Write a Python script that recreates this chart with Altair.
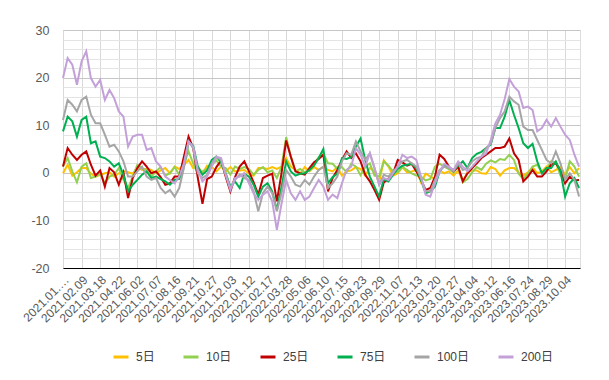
import altair as alt
import pandas as pd

# x-axis category labels (one every 25 trading days)
labels = ["2021.01.…", "2021.02.09", "2021.03.18", "2021.04.22", "2021.06.02", "2021.07.07",
          "2021.08.16", "2021.09.21", "2021.10.27", "2021.12.03", "2022.01.12", "2022.02.17",
          "2022.03.28", "2022.05.06", "2022.06.10", "2022.07.15", "2022.08.23", "2022.09.29",
          "2022.11.07", "2022.12.13", "2023.01.20", "2023.02.27", "2023.04.04", "2023.05.12",
          "2023.06.16", "2023.07.24", "2023.08.29", "2023.10.04"]

names = ["5日", "10日", "25日", "75日", "100日", "200日"]
colors = ["#FFC000", "#92D050", "#C00000", "#00B050", "#A5A5A5", "#C3A0D8"]

# sample positions, in units of label intervals (4 samples per interval)
pos = [i / 4 for i in range(112)]

s5 = [-0.1, 1.7, -0.6, 0.1, 1.0, 1.0, -0.2, -0.8, -0.4, -0.1, 0.1, -0.8, -0.1, 0.3, 0.1, -0.2, 1.2, 0.6, 0.9,
      0.6, -0.1, 0.5, 1.0, -0.1, 1.3, 0.8, 1.7, 2.7, 1.0, 1.3, -0.1, 1.5, 1.3, 0.3, 1.3, 0.3, 1.2, 0.3,
      0.5, 0.6, -0.2, -0.6, 1.0, 1.0, 0.8, 1.2, 0.8, 1.3, 3.1, 1.3, 0.6, -0.2, 1.2, 0.3, 1.2, 0.6, 1.3, 0.6,
      0.3, 1.2, -0.6, 0.3, 0.5, 1.2, 0.8, -0.6, 1.0, 0.3, -2.0, 2.6, 1.3, -0.6, -0.1, 1.2, 0.1, 0.3, 0.6,
      -2.0, -0.2, -0.8, -1.3, 0.5, -0.1, 0.3, -0.6, 0.5, -1.8, 0.1, 0.5, 0.5, -0.1, -0.2, 1.2, 0.8, -0.6, 0.5, 1.0,
      1.0, 0.1, -0.6, 0.1, 1.2, -0.1, 0.3, 1.3, 0.1, 0.6, 1.3, -0.4, 1.2, -0.1, 1.0]

s10 = [1.3, 3.1, 0.3, -2.0, 1.3, 2.0, -1.1, -0.8, -0.2, -2.2, -0.8, -0.4, 1.0, -1.5, -3.2, -0.8, 1.7, 1.0, 0.5,
       -0.8, 0.3, 1.2, -0.6, -0.1, 1.2, -0.4, 1.9, 4.5, 2.0, -0.2, 0.3, 0.8, 1.7, 2.6, 1.3, 1.0, -0.4, 1.3,
       0.8, 1.2, 0.8, -0.4, 0.6, 1.2, 0.1, 0.5, -1.1, 1.3, 7.5, 3.4, 0.3, 0.8, 0.1, 0.5, 1.9, 3.3, 4.0, 2.0,
       1.9, 0.8, 1.2, 0.1, 1.9, 1.3, -0.5, 1.3, 2.0, -0.6, -0.8, 2.4, 1.5, 0.3, 0.1, 1.2, 0.6, -0.1, -0.6,
       -0.8, -1.6, -1.3, 1.3, 1.9, 1.3, 0.8, 0.1, 1.3, -2.0, -1.3, 0.1, 1.2, 0.6, 1.9, 2.6, 2.2, 2.9, 2.7, 3.8,
       2.7, -0.2, -1.3, -0.2, 1.3, 1.7, 0.1, 0.8, 2.4, 2.2, -0.6, -1.1, 2.4, 1.3, -0.8]

s25 = [1.3, 5.2, 3.8, 2.7, 3.8, 4.5, 1.7, -0.6, 0.5, -2.9, 1.0, 0.1, -2.5, 0.1, -5.3, -1.1, 1.0, 2.4, 1.3,
       -0.1, 0.3, -0.9, -2.5, -2.2, -0.8, -0.8, 3.4, 7.6, 5.2, -1.1, -6.5, -1.3, -0.8, 1.2, 2.6, -0.8, -3.9, -0.9,
       1.3, 2.4, 0.3, -2.0, -4.6, -1.1, -0.6, -0.2, -6.0, -0.1, 6.8, 3.4, 0.3, -0.1, -0.4, 1.0, 2.2, 2.9, 3.8, -3.9,
       -1.1, 0.6, 2.7, 4.5, 3.1, 4.1, 2.4, -0.4, -1.8, -3.6, -5.7, -2.0, -1.3, -0.1, 2.7, 2.2, 1.5, 1.9, 0.3,
       -1.5, -3.6, -3.2, -0.8, 3.8, 2.9, 1.3, 0.3, 1.3, -1.8, -0.1, 1.0, 2.0, 3.1, 3.8, 4.5, 5.2, 5.2, 5.5, 7.2,
       4.1, 2.7, -1.8, -0.8, 0.6, -0.8, -0.8, 0.3, 1.7, 2.0, 0.5, -2.2, -0.8, -1.6, -1.5]

s75 = [8.7, 11.8, 10.8, 7.6, 11.1, 11.8, 6.2, 6.6, 3.4, 3.1, 2.4, 1.3, 2.0, -0.4, -3.9, -2.5, -1.5, -0.4, 0.3,
       -1.1, -0.8, -1.3, -1.8, -2.5, -1.5, -1.3, 1.3, 6.4, 5.7, 1.3, -0.4, 0.5, 2.7, 3.4, 2.2, -0.1, -2.9, -1.8,
       -3.2, -0.2, -0.8, -2.5, -5.0, -2.9, -2.2, -3.9, -7.8, -2.9, 2.4, 0.3, -0.6, -0.2, -0.1, 0.6, 1.5, 3.1, 5.0, -2.2,
       -0.9, -0.2, 3.1, 2.9, 3.3, 5.5, 7.2, 2.7, -0.8, -2.9, -5.0, -1.3, -1.8, -0.4, 0.8, 1.5, 1.7, 1.9, 1.0,
       -1.5, -4.3, -3.9, -2.9, 0.3, 1.5, 1.1, 0.6, 1.5, 2.4, 1.0, 3.1, 4.0, 4.4, 5.2, 5.9, 9.4, 9.4, 11.8, 15.3,
       12.2, 9.4, 6.2, 5.2, 6.1, 2.4, -0.1, 1.0, 1.0, 2.4, 0.3, -5.0, -2.2, -1.1, -3.2]

s100 = [11.1, 15.3, 14.3, 12.9, 15.3, 16.0, 12.2, 10.4, 10.4, 8.0, 5.5, 5.9, 4.5, 2.4, -0.8, -0.8, 0.3, 1.3, -0.8,
        -1.5, -1.1, -3.2, -4.3, -3.6, -5.0, -3.2, 1.0, 6.6, 5.2, -0.1, -1.1, -0.4, 2.0, 3.4, 2.7, -0.4, -3.2, -1.5,
        -0.4, -1.1, -1.5, -3.9, -8.1, -4.3, -2.9, -4.3, -8.1, -4.3, 0.6, -0.8, -2.5, -2.9, -1.5, -2.5, -0.8, 0.6, 1.3, -3.2,
        -2.2, -0.8, 2.4, 4.1, 3.8, 6.6, 4.5, 2.7, 4.1, 1.0, -2.5, -0.4, -0.8, 0.3, 1.3, 2.4, 2.7, 2.0, 1.3,
        -1.1, -3.9, -3.9, -1.5, 0.6, 1.3, 1.0, 0.3, 2.0, 0.6, 1.0, 2.4, 3.1, 3.4, 5.2, 6.1, 9.4, 11.5, 12.9, 16.0,
        15.0, 14.3, 9.7, 9.0, 9.0, 6.9, 4.8, 2.7, 2.0, 4.5, 2.0, -1.5, -0.1, -1.5, -5.0]

s200 = [19.9, 24.1, 22.7, 18.5, 23.4, 25.5, 19.9, 18.1, 19.5, 15.3, 17.4, 15.7, 12.9, 11.8, 5.5, 7.6, 8.0, 8.0, 4.8,
        5.2, 2.4, 1.3, -0.8, -1.5, -2.2, -0.8, 2.0, 6.6, 5.5, 0.6, -1.8, -0.8, 1.3, 3.4, 3.1, -0.4, -3.6, -1.1,
        -0.8, -0.1, -2.2, -4.3, -5.7, -4.6, -3.9, -6.0, -12.0, -6.5, -1.5, -4.3, -5.7, -3.9, -5.7, -5.0, -3.2, -1.5, -2.9, -5.7,
        -4.6, -5.3, -2.2, 0.6, 1.3, 5.2, 3.8, 1.3, 4.1, 1.0, -2.5, -1.1, -1.5, -0.1, 1.3, 3.8, 3.1, 3.4, 2.7,
        -0.8, -4.6, -5.0, -2.2, 0.3, 1.9, 1.3, 0.6, 2.4, 1.3, 0.3, 1.3, 2.4, 3.4, 4.1, 6.9, 10.4, 12.2, 15.5, 19.7,
        18.1, 17.1, 13.6, 13.9, 13.2, 8.7, 9.4, 11.1, 9.7, 11.5, 9.7, 8.0, 6.9, 3.8, 1.3]

series = [s5, s10, s25, s75, s100, s200]

rows = []
for name, vals in zip(names, series):
    for p, v in zip(pos, vals):
        rows.append({"pos": p, "value": v, "series": name})
df = pd.DataFrame(rows)

label_array = "[" + ",".join("'" + s + "'" for s in labels) + "]"

x_enc = alt.X("pos:Q",
              scale=alt.Scale(domain=[0, 27.8], nice=False, zero=False),
              axis=alt.Axis(values=list(range(len(labels))),
                            labelExpr=label_array + "[datum.value]",
                            labelAngle=-45, labelOverlap=False, labelBound=False, labelFlush=False,
                            grid=True, gridColor="#d9d9d9", ticks=False,
                            domainColor="#000000", domainWidth=1,
                            labelFontSize=12, labelColor="#595959", labelPadding=6, title=None))
y_enc = alt.Y("value:Q",
              scale=alt.Scale(domain=[-20, 30], nice=False, zero=False),
              axis=alt.Axis(values=list(range(-20, 31, 2)),
                            labelExpr="datum.value % 10 === 0 ? '' + datum.value : ''",
                            grid=True,
                            gridColor={"condition": {"test": "datum.value % 10 === 0", "value": "#c6c6c6"},
                                       "value": "#e4e4e4"},
                            domain=False, ticks=False, labelPadding=14,
                            labelFontSize=12.5, labelColor="#595959", title=None))
color_enc = alt.Color("series:N",
                      scale=alt.Scale(domain=names, range=colors),
                      sort=names,
                      legend=alt.Legend(orient="none", legendX=49, legendY=318, direction="horizontal",
                                        columns=6, title=None, symbolType="stroke", symbolStrokeWidth=3,
                                        symbolSize=225, labelFontSize=12, labelColor="#404040",
                                        columnPadding=22, labelOffset=6, padding=0))

base = alt.Chart(df).mark_line(strokeWidth=2).encode(x=x_enc, y=y_enc, color=color_enc)
layers = [base.transform_filter(alt.datum.series == n) for n in names]

chart = alt.layer(*layers).properties(
    width=517, height=238,
    padding={"left": 55, "top": 22, "right": 20, "bottom": 100},
    autosize="none",
    background="#ffffff",
).configure_view(strokeWidth=0).configure(font="Liberation Sans, Noto Sans CJK JP")

chart.save("out.html", embed_options={"renderer": "svg", "actions": False})
